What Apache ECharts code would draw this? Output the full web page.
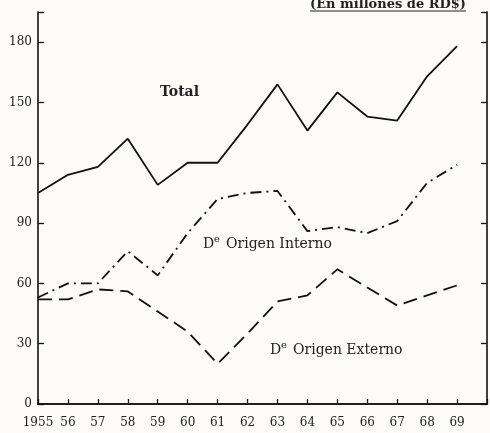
<!DOCTYPE html>
<html>
<head>
<meta charset="utf-8">
<script src="https://cdn.jsdelivr.net/npm/echarts@6/dist/echarts.min.js"></script>
<style>
html,body{margin:0;padding:0;background:#fcfbf7;}
#c{width:490px;height:433px;}
</style>
</head>
<body>
<div id="c"></div>
<script>
var years = [1955,1956,1957,1958,1959,1960,1961,1962,1963,1964,1965,1966,1967,1968,1969];
var total = [105,114,118,132,109,120,120,139,159,136,155,143,141,163,178];
var interno = [53,60,60,76,64,85,102,105,106,86,88,85,91,110,119];
var externo = [52,52,57,56,46,36,20,35,51,54,67,58,49,54,59];
var yTicks = [0,30,60,90,120,150,180];
var title = '(En millones de RD$)';
var lblTotal = 'Total';
var lblInterno = 'Origen Interno';
var lblExterno = 'Origen Externo';

function pairs(vals){ return years.map(function(y,i){ return [y, vals[i]]; }); }

var font = 'DejaVu Serif';
function deLabel(x, y, rest){
  return [
    {type:'text', left:x, top:y, style:{text:'D', font:'14px "DejaVu Serif"', fill:'#222'}},
    {type:'text', left:x+11, top:y-3, style:{text:'e', font:'10px "DejaVu Serif"', fill:'#222'}},
    {type:'text', left:x+23, top:y, style:{text:rest, font:'14px "DejaVu Serif"', fill:'#222'}}
  ];
}
var chart = echarts.init(document.getElementById('c'), null, {renderer:'canvas'});
chart.setOption({
  backgroundColor:'#fcfbf7',
  animation:false,
  grid:{left:38, top:12, width:453, bottom:29},
  xAxis:[{
    type:'value', min:1955, max:1970, interval:1,
    axisLine:{show:true, lineStyle:{color:'#111', width:1.6}},
    axisTick:{show:true, inside:true, length:5, lineStyle:{color:'#111', width:1.3}},
    splitLine:{show:false},
    axisLabel:{color:'#222', fontFamily:font, fontSize:12, margin:13,
      formatter:function(v){ if(v===1955) return '1955'; if(v>=1970) return ''; return String(v).slice(2); }}
  },{
    type:'value', position:'top', min:1955, max:1970,
    axisLine:{show:true, lineStyle:{color:'#111', width:1.6}},
    axisTick:{show:false}, axisLabel:{show:false}, splitLine:{show:false}
  }],
  yAxis:[{
    type:'value', min:0, max:195, interval:30,
    axisLine:{show:true, lineStyle:{color:'#111', width:1.6}},
    axisTick:{show:true, inside:true, length:6, lineStyle:{color:'#111', width:1.3}},
    splitLine:{show:false},
    axisLabel:{color:'#222', fontFamily:font, fontSize:12, margin:6,
      formatter:function(v){ return yTicks.indexOf(v)>=0 ? String(v) : ''; }}
  },{
    type:'value', position:'right', min:0, max:195, interval:30,
    axisLine:{show:true, lineStyle:{color:'#111', width:1.6}},
    axisTick:{show:true, inside:true, length:6, lineStyle:{color:'#111', width:1.3}},
    splitLine:{show:false}, axisLabel:{show:false}
  }],
  series:[
    {type:'line', data:pairs(total), symbol:'none', lineStyle:{color:'#111', width:1.8, type:'solid'}},
    {type:'line', data:pairs(interno), symbol:'none', lineStyle:{color:'#111', width:1.8, type:[11,5,2,5]}},
    {type:'line', data:pairs(externo), symbol:'none', lineStyle:{color:'#111', width:1.8, type:[14,7]}}
  ],
  graphic:[
    {type:'text', left:310, top:-2, style:{text:title, font:'bold 13px "DejaVu Serif"', fill:'#222'}},
    {type:'line', shape:{x1:310, y1:11, x2:466, y2:11}, style:{stroke:'#222', lineWidth:1}},
    {type:'text', left:160, top:85, style:{text:lblTotal, font:'bold 14px "DejaVu Serif"', fill:'#222'}}
  ].concat(deLabel(203, 237, lblInterno)).concat(deLabel(270, 343, lblExterno))
});
</script>
</body>
</html>
